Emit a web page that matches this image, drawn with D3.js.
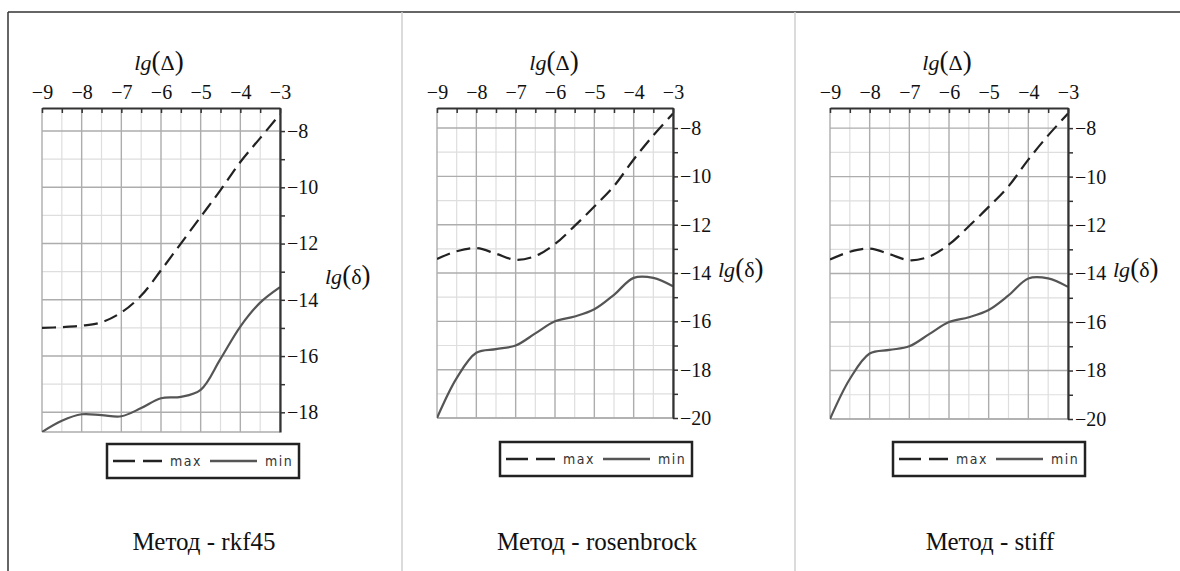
<!DOCTYPE html>
<html><head><meta charset="utf-8">
<script src="https://cdn.jsdelivr.net/npm/d3@7"></script>
<style>
#chart text, #chart tspan { font-family: "Liberation Serif" !important; }
#chart text.lgd { font-family: "DejaVu Sans Condensed" !important; }
</style>
</head>
<body style="margin:0">
<svg id="chart" width="1180" height="571" style="font-family:'Liberation Serif'"></svg>
<script>
// ---- data ----
const xValues = [-9, -8.5, -8, -7.5, -7, -6.5, -6, -5.5, -5, -4.5, -4, -3.5, -3];
const xTickLabels = [-9, -8, -7, -6, -5, -4, -3];

const rkf45Max = [-15.0, -14.97, -14.92, -14.8, -14.45, -13.85, -12.95, -12.0, -11.05, -10.1, -9.1, -8.25, -7.4];
const rkf45Min = [-18.7, -18.3, -18.07, -18.1, -18.14, -17.85, -17.5, -17.45, -17.2, -16.1, -14.95, -14.1, -13.55];
const rosenbrockMax = [-13.42, -13.1, -12.97, -13.2, -13.45, -13.3, -12.8, -12.05, -11.25, -10.4, -9.3, -8.3, -7.4];
const rosenbrockMin = [-20.0, -18.35, -17.3, -17.15, -17.0, -16.5, -16.0, -15.8, -15.5, -14.9, -14.2, -14.2, -14.55];
const stiffMax = [-13.42, -13.1, -12.97, -13.2, -13.45, -13.3, -12.8, -12.05, -11.25, -10.4, -9.3, -8.3, -7.4];
const stiffMin = [-20.0, -18.35, -17.3, -17.15, -17.0, -16.5, -16.0, -15.8, -15.5, -14.9, -14.2, -14.2, -14.55];

const yTicksRkf45 = [-8, -10, -12, -14, -16, -18];
const yTicksWide = [-8, -10, -12, -14, -16, -18, -20];

const seriesNames = ["max", "min"];
const methodTitles = ["Метод - rkf45", "Метод - rosenbrock", "Метод - stiff"];

// ---- layout ----
const panels = [
  {title: methodTitles[0], max: rkf45Max, min: rkf45Min, yDomain: [-18.7, -7.18], yTicks: yTicksRkf45,
   left: 42, right: 280, top: 108, bottom: 432, ylabY: 277, legY: 444, legX: 107, titleX: 204},
  {title: methodTitles[1], max: rosenbrockMax, min: rosenbrockMin, yDomain: [-20, -7.17], yTicks: yTicksWide,
   left: 437, right: 673, top: 108, bottom: 418, ylabY: 270, legY: 442, legX: 500, titleX: 597},
  {title: methodTitles[2], max: stiffMax, min: stiffMin, yDomain: [-20, -7.17], yTicks: yTicksWide,
   left: 830, right: 1068, top: 108, bottom: 419, ylabY: 270, legY: 442, legX: 893, titleX: 990}
];

const SERIF = "Liberation Serif";
const NARROW = "DejaVu Sans Condensed";
const svg = d3.select("#chart");

// frame
svg.append("line").attr("x1", 8).attr("x2", 1180).attr("y1", 12).attr("y2", 12).attr("stroke", "#333").attr("stroke-width", 1.5);
svg.append("line").attr("x1", 8).attr("x2", 8).attr("y1", 12).attr("y2", 571).attr("stroke", "#333").attr("stroke-width", 1.5);
[402, 795].forEach(xx => svg.append("line").attr("x1", xx).attr("x2", xx).attr("y1", 12).attr("y2", 571)
  .attr("stroke", "#cfcfcf").attr("stroke-width", 1.5));

panels.forEach((p, i) => {
  const x = d3.scaleLinear().domain([-9, -3]).range([p.left, p.right]);
  const y = d3.scaleLinear().domain(p.yDomain).range([p.bottom, p.top]);

  const clipId = "clip" + i;
  svg.append("clipPath").attr("id", clipId).append("rect")
    .attr("x", p.left).attr("y", p.top).attr("width", p.right - p.left).attr("height", p.bottom - p.top);

  const xMinor = d3.range(-8.5, -3, 1);
  const yAll = d3.range(Math.ceil(p.yDomain[0]), Math.floor(p.yDomain[1]) + 1);
  const yMinor = yAll.filter(v => v % 2 !== 0);
  const grid = svg.append("g");
  grid.selectAll(".xm").data(xMinor).join("line")
    .attr("x1", d => x(d)).attr("x2", d => x(d)).attr("y1", p.top).attr("y2", p.bottom)
    .attr("stroke", "#dedede").attr("stroke-width", 1.2);
  grid.selectAll(".ym").data(yMinor).join("line")
    .attr("x1", p.left).attr("x2", p.right).attr("y1", d => y(d)).attr("y2", d => y(d))
    .attr("stroke", "#dedede").attr("stroke-width", 1.2);
  grid.selectAll(".xM").data(xTickLabels).join("line")
    .attr("x1", d => x(d)).attr("x2", d => x(d)).attr("y1", p.top).attr("y2", p.bottom)
    .attr("stroke", "#adadad").attr("stroke-width", 1.4);
  grid.selectAll(".yM").data(p.yTicks).join("line")
    .attr("x1", p.left).attr("x2", p.right).attr("y1", d => y(d)).attr("y2", d => y(d))
    .attr("stroke", "#adadad").attr("stroke-width", 1.4);
  grid.append("line").attr("x1", p.left).attr("x2", p.right).attr("y1", p.bottom).attr("y2", p.bottom)
    .attr("stroke", "#adadad").attr("stroke-width", 1.4);

  const line = d3.line().x((d, k) => x(xValues[k])).y(d => y(d)).curve(d3.curveCatmullRom.alpha(0.5));
  const cg = svg.append("g").attr("clip-path", `url(#${clipId})`);
  cg.append("path").attr("d", line(p.max)).attr("fill", "none").attr("stroke", "#222")
    .attr("stroke-width", 2.2).attr("stroke-dasharray", "14,7");
  cg.append("path").attr("d", line(p.min)).attr("fill", "none").attr("stroke", "#555")
    .attr("stroke-width", 2.2);

  const topAxis = d3.axisTop(x).tickValues(d3.range(-9, -2.99, 0.5)).tickSizeInner(-5).tickSizeOuter(0)
    .tickPadding(9).tickFormat(d => Number.isInteger(d) ? d3.format("d")(d) : "");
  const ta = svg.append("g").attr("transform", `translate(0,${p.top})`).call(topAxis);
  ta.attr("font-family", SERIF).attr("font-size", 20);
  ta.select(".domain").attr("stroke", "#333").attr("stroke-width", 2.2);
  ta.selectAll(".tick line").attr("stroke", "#333").attr("stroke-width", 1.5);
  ta.selectAll("text").attr("fill", "#111").style("font-family", SERIF).style("font-size", "20px");

  const rightAxis = d3.axisRight(y).tickValues(yAll.filter(v => v <= -8))
    .tickSizeInner(5).tickSizeOuter(0).tickPadding(2)
    .tickFormat(d => p.yTicks.includes(d) ? d3.format("d")(d) : "");
  const ra = svg.append("g").attr("transform", `translate(${p.right},0)`).call(rightAxis);
  ra.attr("font-family", SERIF).attr("font-size", 20);
  ra.select(".domain").attr("stroke", "#333").attr("stroke-width", 2.2);
  ra.selectAll(".tick line").attr("stroke", "#333").attr("stroke-width", 1.5);
  ra.selectAll("text").attr("fill", "#111").style("font-family", SERIF).style("font-size", "20px");

  const xt = svg.append("text").style("font-family", SERIF).attr("x", p.left + 117).attr("y", 70)
    .attr("text-anchor", "middle").style("font-size", "22px").attr("fill", "#111");
  xt.append("tspan").style("font-style", "italic").text("lg");
  xt.append("tspan").style("font-size", "27px").text("(");
  xt.append("tspan").text("Δ");
  xt.append("tspan").style("font-size", "27px").text(")");

  const yt = svg.append("text").style("font-family", SERIF).attr("x", p.right + 45).attr("y", p.ylabY + 7)
    .attr("text-anchor", "start").style("font-size", "22px").attr("fill", "#111");
  yt.append("tspan").style("font-style", "italic").text("lg");
  yt.append("tspan").style("font-size", "27px").text("(");
  yt.append("tspan").text("δ");
  yt.append("tspan").style("font-size", "27px").text(")");

  const lg = svg.append("g").attr("transform", `translate(${p.legX},${p.legY})`);
  lg.append("rect").attr("x", 0).attr("y", 0).attr("width", 192).attr("height", 34)
    .attr("fill", "#fff").attr("stroke", "#222").attr("stroke-width", 2.5);
  lg.append("line").attr("x1", 6).attr("x2", 55).attr("y1", 17).attr("y2", 17)
    .attr("stroke", "#222").attr("stroke-width", 2.5).attr("stroke-dasharray", "22,8");
  lg.append("text").attr("class", "lgd").style("font-family", NARROW).attr("x", 63).attr("y", 22).text(seriesNames[0])
    .style("font-size", "14px").attr("letter-spacing", 1.5).attr("fill", "#333");
  lg.append("line").attr("x1", 103).attr("x2", 150).attr("y1", 17).attr("y2", 17)
    .attr("stroke", "#555").attr("stroke-width", 2.5);
  lg.append("text").attr("class", "lgd").style("font-family", NARROW).attr("x", 158).attr("y", 22).text(seriesNames[1])
    .style("font-size", "14px").attr("letter-spacing", 1.5).attr("fill", "#333");

  svg.append("text").style("font-family", SERIF).attr("x", p.titleX).attr("y", 550).attr("text-anchor", "middle")
    .style("font-size", "25px").attr("fill", "#111").text(p.title);
});
</script>
</body></html>
